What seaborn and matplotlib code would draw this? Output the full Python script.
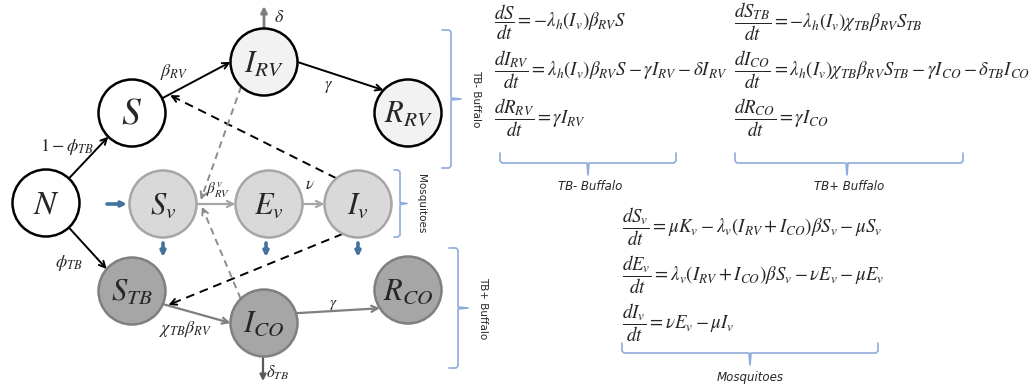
import matplotlib
matplotlib.use("Agg")
import numpy as np
import matplotlib.pyplot as plt
from matplotlib.patches import Circle, FancyArrowPatch
import seaborn as sns

sns.set_theme(style="white")
plt.rcParams["font.family"] = ["DejaVu Sans"]
plt.rcParams["mathtext.fontset"] = "stix"

# ---- compartments -------------------------------------------------------
compartments = ["N", "S", "I_RV", "R_RV", "S_v", "E_v", "I_v", "S_TB", "I_CO", "R_CO"]
compartment_labels = [r"$N$", r"$S$", r"$I_{RV}$", r"$R_{RV}$", r"$S_v$", r"$E_v$",
                      r"$I_v$", r"$S_{TB}$", r"$I_{CO}$", r"$R_{CO}$"]
compartment_group = ["entry", "entry", "buffalo", "buffalo", "vector", "vector",
                     "vector", "tbpos", "tbpos", "tbpos"]

# ---- transitions (source, target, rate label) --------------------------
flows_src = ["N", "N", "S", "I_RV", "S_v", "E_v", "S_TB", "I_CO"]
flows_dst = ["S", "S_TB", "I_RV", "R_RV", "E_v", "I_v", "I_CO", "R_CO"]
flows_lbl = [r"$1-\phi_{TB}$", r"$\phi_{TB}$", r"$\beta_{RV}$", r"$\gamma$",
             r"$\beta_{RV}^{v}$", r"$\nu$", r"$\chi_{TB}\beta_{RV}$", r"$\gamma$"]

# infection pressure (dashed) links
contact_src = ["I_v", "I_v", "I_RV", "I_CO"]
contact_dst = ["S", "S_TB", "S_v", "S_v"]

# ---- model equations -----------------------------------------------------
eq_tb_neg = [r"$\dfrac{dS}{dt} = -\lambda_h(I_v)\beta_{RV}S$",
             r"$\dfrac{dI_{RV}}{dt} = \lambda_h(I_v)\beta_{RV}S - \gamma I_{RV} - \delta I_{RV}$",
             r"$\dfrac{dR_{RV}}{dt} = \gamma I_{RV}$"]
eq_tb_pos = [r"$\dfrac{dS_{TB}}{dt} = -\lambda_h(I_v)\chi_{TB}\beta_{RV}S_{TB}$",
             r"$\dfrac{dI_{CO}}{dt} = \lambda_h(I_v)\chi_{TB}\beta_{RV}S_{TB} - \gamma I_{CO} - \delta_{TB}I_{CO}$",
             r"$\dfrac{dR_{CO}}{dt} = \gamma I_{CO}$"]
eq_vector = [r"$\dfrac{dS_v}{dt} = \mu K_v - \lambda_v(I_{RV} + I_{CO})\beta S_v - \mu S_v$",
             r"$\dfrac{dE_v}{dt} = \lambda_v(I_{RV} + I_{CO})\beta S_v - \nu E_v - \mu E_v$",
             r"$\dfrac{dI_v}{dt} = \nu E_v - \mu I_v$"]
group_titles = ["TB- Buffalo", "TB+ Buffalo", "Mosquitoes"]

# ---- layout (pixel space, y downwards) -----------------------------------
W, H = 1031, 388
R = 33.5
pos = {"N": (46, 203), "S": (132, 113), "I_RV": (264, 62), "R_RV": (408, 113),
       "S_v": (163, 204), "E_v": (269, 204), "I_v": (358, 204),
       "S_TB": (132, 291), "I_CO": (264, 323), "R_CO": (408, 290)}
label_size = {"N": 24, "S": 27}
style = {"entry": ("white", "black"),
         "buffalo": ("#f2f2f2", "black"),
         "vector": ("#d9d9d9", "#a6a6a6"),
         "tbpos": ("#a6a6a6", "#7f7f7f")}

# attachment angles on the circles (degrees, counter-clockwise)
flow_angles = [(47, 225), (-47, 139), (26, 180), (0, 137),
               (0, 180), (0, 180), (-23, 180), (17, -147)]
flow_colors = ["black", "black", "black", "black",
               "#a6a6a6", "#a6a6a6", "#7f7f7f", "#7f7f7f"]
flow_label_pos = [(67, 147), (69, 263), (174, 72), (329, 86),
                  (218, 190), (310, 184), (186, 329), (333, 305)]
flow_label_size = [13, 13, 13, 12, 11, 12, 13, 11]
contact_angles = [(130, 25, 42), (-117, -21, 39), (-133, 6, 38), (134, -4, 39)]
contact_colors = ["black", "black", "#8c8c8c", "#8c8c8c"]
contact_dash = [(4.5, 3), (4.5, 3), (3.5, 2.5), (3.5, 2.5)]

BLUE = "#44729e"
BRACE = "#8faadc"

fig = plt.figure(figsize=(W / 100, H / 100), dpi=100)
ax = fig.add_axes([0, 0, 1, 1])
ax.set_xlim(0, W)
ax.set_ylim(H, 0)
ax.set_aspect("equal")
ax.axis("off")


def on_circle(name, ang, r=R):
    cx, cy = pos[name]
    a = np.deg2rad(ang)
    return (cx + r * np.cos(a), cy - r * np.sin(a))


def arrow(p0, p1, color, lw=1.3, dash=None, head="->", ms=11, z=2):
    p0, p1 = np.asarray(p0, float), np.asarray(p1, float)
    if dash is not None:
        d = p1 - p0
        u = d / np.hypot(*d)
        ax.plot([p0[0], p1[0] - u[0] * 2], [p0[1], p1[1] - u[1] * 2], color=color,
                lw=lw, ls=(0, dash), zorder=z, solid_capstyle="butt")
        ax.add_patch(FancyArrowPatch(tuple(p1 - u * 6), tuple(p1), arrowstyle=head,
                                     mutation_scale=ms, color=color, lw=lw,
                                     shrinkA=0, shrinkB=0, zorder=z))
    else:
        ax.add_patch(FancyArrowPatch(tuple(p0), tuple(p1), arrowstyle=head,
                                     mutation_scale=ms, color=color, lw=lw,
                                     shrinkA=0, shrinkB=0, zorder=z))


# compartments
for name, lab, grp in zip(compartments, compartment_labels, compartment_group):
    face, edge = style[grp]
    ax.add_patch(Circle(pos[name], R, facecolor=face, edgecolor=edge, lw=1.8, zorder=3))
    ax.text(pos[name][0], pos[name][1] + 1, lab, fontsize=label_size.get(name, 22),
            ha="center", va="center", zorder=4)

# transitions
for s, d, lab, (a0, a1), col, lp, fs in zip(flows_src, flows_dst, flows_lbl, flow_angles,
                                             flow_colors, flow_label_pos, flow_label_size):
    arrow(on_circle(s, a0), on_circle(d, a1), col, lw=1.4 if col == "black" else 1.6)
    ax.text(lp[0], lp[1], lab, fontsize=fs, ha="center", va="center", zorder=5)

# infection pressure links
for s, d, (a0, a1, r1), col, dash in zip(contact_src, contact_dst, contact_angles,
                                         contact_colors, contact_dash):
    arrow(on_circle(s, a0), on_circle(d, a1, r1), col, lw=1.4, dash=dash, z=1)

# deaths
arrow((264, 28), (264, 6), "#7f7f7f", lw=2.0, head="-|>", ms=9)
ax.text(274, 17, r"$\delta$", fontsize=13, ha="left", va="center")
arrow((263, 358), (263, 381), "#595959", lw=1.6, head="-|>", ms=9)
ax.text(266, 373, r"$\delta_{TB}$", fontsize=12, ha="left", va="center")

# mosquito recruitment and mortality
arrow((107, 204), (127, 204), BLUE, lw=2.6, head="-|>", ms=7)
for x in (pos["S_v"][0], pos["E_v"][0] - 3, pos["I_v"][0]):
    arrow((x, 243), (x, 257), BLUE, lw=2.6, head="-|>", ms=7)


def vbrace(x, y1, y2, w=9, tip=10):
    ym = (y1 + y2) / 2
    xs = [x - w, x - 2, x, x, x + tip, x, x, x - 2, x - w]
    ys = [y1, y1, y1 + 2, ym - 1, ym, ym + 1, y2 - 2, y2, y2]
    ax.plot(xs, ys, color=BRACE, lw=1.2)


def hbrace(x1, x2, y, xm, h=10, tip=12):
    xs = [x1, x1, x1 + 2, xm - 1, xm, xm + 1, x2 - 2, x2, x2]
    ys = [y - h, y - 2, y, y, y + tip, y, y, y - 2, y - h]
    ax.plot(xs, ys, color=BRACE, lw=1.2)


vbrace(451, 30, 168)
ax.text(476, 99, "TB- Buffalo", rotation=-90, fontsize=7.5, ha="center", va="center")
vbrace(400, 170, 237, w=6, tip=7)
ax.text(421, 204, "Mosquitoes", rotation=-90, fontsize=7.5, ha="center", va="center")
vbrace(458, 248, 368)
ax.text(483, 308, "TB+ Buffalo", rotation=-90, fontsize=7.5, ha="center", va="center")

# equations
for eqs, x0, ys in ((eq_tb_neg, 494, (22, 70, 118)),
                    (eq_tb_pos, 734, (22, 70, 118)),
                    (eq_vector, 622, (227, 275, 323))):
    for eq, y in zip(eqs, ys):
        ax.text(x0, y, eq, fontsize=13.6, ha="left", va="center")

hbrace(500, 676, 163, 588)
ax.text(590, 187, group_titles[0], fontsize=8.5, style="italic", ha="center", va="center")
hbrace(735, 963, 163, 847)
ax.text(849, 187, group_titles[1], fontsize=8.5, style="italic", ha="center", va="center")
hbrace(622, 878, 353, 750)
ax.text(750, 377, group_titles[2], fontsize=8.5, style="italic", ha="center", va="center")

fig.savefig("out.png", dpi=100)
